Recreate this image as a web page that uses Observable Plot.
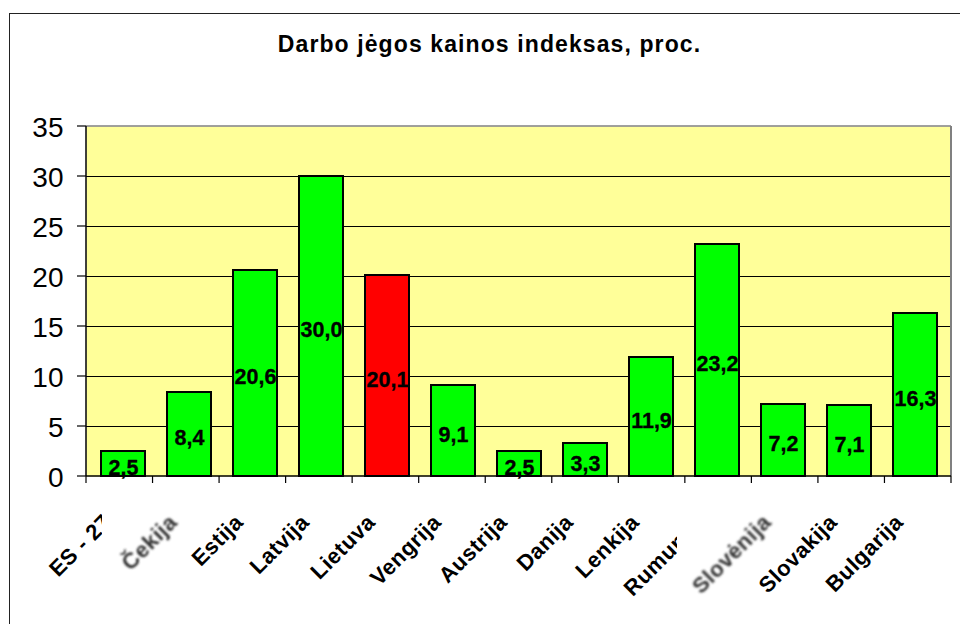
<!DOCTYPE html>
<html><head><meta charset="utf-8">
<script src="https://cdn.jsdelivr.net/npm/d3@7"></script>
<script src="https://cdn.jsdelivr.net/npm/@observablehq/plot@0.6"></script>
<style>
body{margin:0;background:#fff;overflow:hidden;width:960px;height:624px;position:relative;font-family:"Liberation Sans",Arial,sans-serif}
#chart{position:absolute;left:0;top:0}
#frame{position:absolute;left:9px;top:13px;width:1000px;height:700px;border-left:1.5px solid #222;border-top:1.5px solid #222;pointer-events:none}
#title{position:absolute;left:0;top:33px;width:979px;text-align:center;font-weight:bold;font-size:23px;line-height:23px;letter-spacing:1.1px;color:#000}
</style></head><body>
<div id="chart"></div>
<div id="title">Darbo jėgos kainos indeksas, proc.</div>
<div id="frame"></div>
<script>
const countries = ["ES - 27","Čekija","Estija","Latvija","Lietuva","Vengrija","Austrija","Danija","Lenkija","Rumunija","Slovėnija","Slovakija","Bulgarija"];
const values = [2.5,8.4,20.6,30.0,20.1,9.1,2.5,3.3,11.9,23.2,7.2,7.1,16.3];
const yTicks = [0,5,10,15,20,25,30,35];
const highlighted = "Lietuva";
const faintLabels = ["Čekija","Slovėnija"];
const clippedLabels = ["ES - 27","Rumunija"];

const rows = countries.map((c, i) => ({country: c, value: values[i]}));
const fmt = v => v.toFixed(1).replace(".", ",");
const font = "'Liberation Sans', Arial, sans-serif";

function axisLines(index, scales, values, dim) {
  const g = d3.create("svg:g");
  const x0 = dim.marginLeft, x1 = dim.width - dim.marginRight;
  const yTop = dim.marginTop, yBot = dim.height - dim.marginBottom;
  const n = countries.length, step = (x1 - x0) / n;
  g.append("line").attr("x1", x0).attr("x2", x1).attr("y1", yTop).attr("y2", yTop).attr("stroke", "#808080").attr("stroke-width", 1.5);
  g.append("line").attr("x1", x1).attr("x2", x1).attr("y1", yTop).attr("y2", yBot).attr("stroke", "#808080").attr("stroke-width", 2);
  g.append("line").attr("x1", x0).attr("x2", x0).attr("y1", yTop).attr("y2", yBot).attr("stroke", "#000").attr("stroke-width", 1.5);
  for (const t of yTicks) {
    const y = scales.y(t);
    g.append("line").attr("x1", x0 - 9).attr("x2", x0).attr("y1", y).attr("y2", y).attr("stroke", "#000").attr("stroke-width", 1.2);
  }
  g.append("line").attr("x1", x0).attr("x2", x1).attr("y1", yBot).attr("y2", yBot).attr("stroke", "#000").attr("stroke-width", 1.5);
  for (let i = 0; i <= n; i++) {
    const x = x0 + i * step;
    g.append("line").attr("x1", x).attr("x2", x).attr("y1", yBot).attr("y2", yBot + 7).attr("stroke", "#000").attr("stroke-width", 1.2);
  }
  return g.node();
}

const labelOpts = {
  x: d => d, frameAnchor: "bottom", dx: -11, dy: 47, rotate: -45,
  textAnchor: "end", lineAnchor: "bottom", fontSize: 22, fontWeight: "bold", fontFamily: font
};

const chart = Plot.plot({
  width: 960, height: 624,
  marginTop: 126, marginBottom: 148, marginLeft: 86, marginRight: 9,
  style: {fontFamily: font, background: "transparent", color: "black", overflow: "visible"},
  x: {domain: countries, paddingInner: 0.34, paddingOuter: 0.17, axis: null},
  y: {domain: [0, 35], axis: null},
  marks: [
    Plot.frame({fill: "#FFFF99", stroke: null}),
    Plot.ruleY(yTicks.filter(t => t > 0 && t < 35), {stroke: "#000", strokeWidth: 1}),
    Plot.barY(rows, {x: "country", y: "value", fill: d => d.country === highlighted ? "#FF0000" : "#00FF00", stroke: "#000", strokeWidth: 2}),
    axisLines,
    Plot.text(rows, {x: "country", y: d => d.value / 2, text: d => fmt(d.value), dy: 4, fontSize: 21.5, fontWeight: "bold", fill: "#000", fontFamily: font, stroke: "#000", strokeWidth: 0.3}),
    Plot.text(yTicks, {y: d => d, text: d => String(d), frameAnchor: "left", textAnchor: "end", dx: -23, dy: 2, fontSize: 28, fill: "#000", fontFamily: font}),
    Plot.text(countries.filter(c => !faintLabels.includes(c) && !clippedLabels.includes(c)), {...labelOpts, fill: "#000", ariaDescription: "x-labels"}),
    Plot.text(countries.filter(c => clippedLabels.includes(c)), {...labelOpts, fill: "#000", ariaDescription: "clipped-labels"}),
    Plot.text(countries.filter(c => faintLabels.includes(c)), {...labelOpts, fill: "#303030", ariaDescription: "faint-labels"})
  ]
});

document.getElementById("chart").appendChild(chart);

const svg = d3.select(chart);
const defs = svg.insert("defs", ":first-child");
defs.append("filter").attr("id", "soft").attr("x", "-10%").attr("y", "-10%").attr("width", "120%").attr("height", "120%")
  .append("feGaussianBlur").attr("stdDeviation", 0.8);
const cp = defs.append("clipPath").attr("id", "cut").attr("clipPathUnits", "userSpaceOnUse");
cp.append("rect").attr("x", 0).attr("y", 0).attr("width", 102).attr("height", 624);
cp.append("rect").attr("x", 200).attr("y", 0).attr("width", 477).attr("height", 624);

svg.selectAll("g[aria-description='x-labels']").attr("letter-spacing", "0.5px");
svg.selectAll("g[aria-description='faint-labels']").attr("filter", "url(#soft)").attr("letter-spacing", "0.5px");
svg.selectAll("g[aria-description='clipped-labels']").each(function () {
  const wrap = document.createElementNS("http://www.w3.org/2000/svg", "g");
  wrap.setAttribute("clip-path", "url(#cut)");
  this.parentNode.insertBefore(wrap, this);
  wrap.appendChild(this);
  this.setAttribute("letter-spacing", "0.5px");
});
</script>
</body></html>
